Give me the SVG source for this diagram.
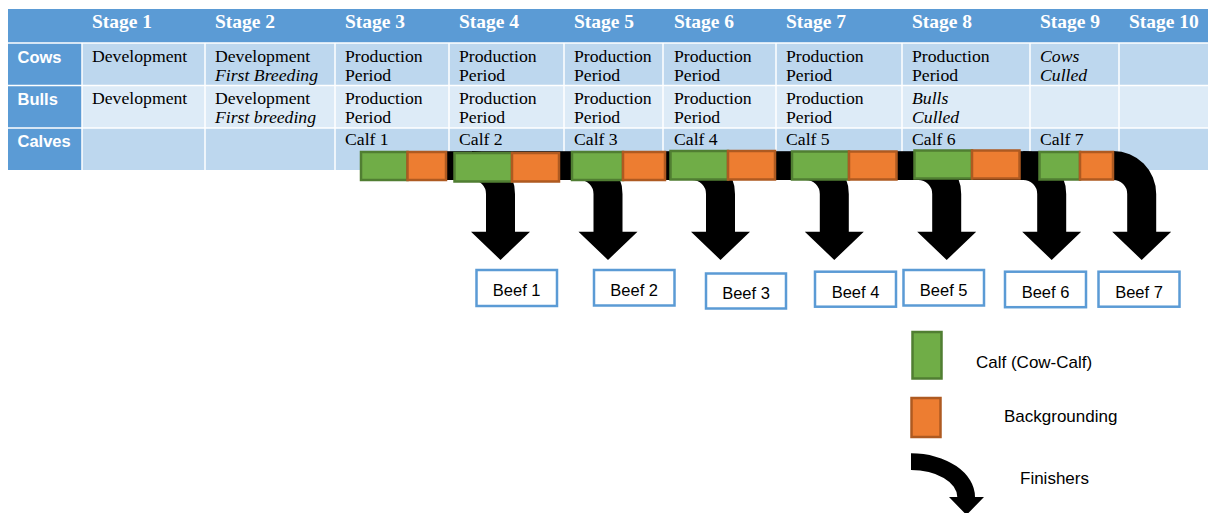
<svg xmlns="http://www.w3.org/2000/svg" width="1208" height="513" viewBox="0 0 1208 513">
<style>
.hdr{font-family:"Liberation Serif","Times New Roman",serif;font-weight:bold;font-size:19.5px;fill:#fff}
.lbl{font-family:"Liberation Sans",Arial,sans-serif;font-weight:bold;font-size:16.5px;fill:#fff}
.cell{font-family:"Liberation Serif","Times New Roman",serif;font-size:17.7px;fill:#000}
.it{font-style:italic}
.sans{font-family:"Liberation Sans",Arial,sans-serif;font-size:16.5px;fill:#000}
.leg{font-size:17px}
.grid{stroke:#fff;stroke-width:1.5}
.green{fill:#70AD47;stroke:#507E32;stroke-width:2.5}
.orange{fill:#ED7D31;stroke:#AE5A21;stroke-width:2.5}
.beef{fill:#fff;stroke:#5B9BD5;stroke-width:2.5}
.arr{fill:#000}
</style>
<rect width="1208" height="513" fill="#fff"/>
<g id="table">
  <rect x="8" y="9" width="1200" height="34" fill="#5B9BD5"/>
  <rect x="8" y="43" width="1200" height="42.5" fill="#BDD7EE"/>
  <rect x="8" y="85.5" width="1200" height="42.5" fill="#DDEBF7"/>
  <rect x="8" y="128" width="1200" height="42" fill="#BDD7EE"/>
  <rect x="8" y="43" width="74" height="127" fill="#5B9BD5"/>
  <g class="grid">
    <line x1="8" y1="43" x2="1208" y2="43"/>
    <line x1="8" y1="85.5" x2="1208" y2="85.5"/>
    <line x1="8" y1="128" x2="1208" y2="128"/>
    <line x1="82" y1="43" x2="82" y2="170"/>
    <line x1="205" y1="43" x2="205" y2="170"/>
    <line x1="335" y1="43" x2="335" y2="170"/>
    <line x1="449" y1="43" x2="449" y2="170"/>
    <line x1="564" y1="43" x2="564" y2="170"/>
    <line x1="663" y1="43" x2="663" y2="170"/>
    <line x1="776" y1="43" x2="776" y2="170"/>
    <line x1="902" y1="43" x2="902" y2="170"/>
    <line x1="1030" y1="43" x2="1030" y2="170"/>
    <line x1="1119" y1="43" x2="1119" y2="170"/>
  </g>
  <g class="hdr">
    <text x="92" y="27.5">Stage 1</text>
    <text x="215" y="27.5">Stage 2</text>
    <text x="345" y="27.5">Stage 3</text>
    <text x="459" y="27.5">Stage 4</text>
    <text x="574" y="27.5">Stage 5</text>
    <text x="674" y="27.5">Stage 6</text>
    <text x="786" y="27.5">Stage 7</text>
    <text x="912" y="27.5">Stage 8</text>
    <text x="1040" y="27.5">Stage 9</text>
    <text x="1129" y="27.5">Stage 10</text>
  </g>
  <g class="lbl">
    <text x="17.5" y="63">Cows</text>
    <text x="17.5" y="105">Bulls</text>
    <text x="17.5" y="147">Calves</text>
  </g>
  <g class="cell">
    <text x="92" y="62">Development</text>
    <text x="215" y="62">Development</text>
    <text x="215" y="81" class="it">First Breeding</text>
    <text x="345" y="62">Production</text><text x="345" y="81">Period</text>
    <text x="459" y="62">Production</text><text x="459" y="81">Period</text>
    <text x="574" y="62">Production</text><text x="574" y="81">Period</text>
    <text x="674" y="62">Production</text><text x="674" y="81">Period</text>
    <text x="786" y="62">Production</text><text x="786" y="81">Period</text>
    <text x="912" y="62">Production</text><text x="912" y="81">Period</text>
    <text x="1040" y="62" class="it">Cows</text><text x="1040" y="81" class="it">Culled</text>

    <text x="92" y="104">Development</text>
    <text x="215" y="104">Development</text>
    <text x="215" y="123" class="it">First breeding</text>
    <text x="345" y="104">Production</text><text x="345" y="123">Period</text>
    <text x="459" y="104">Production</text><text x="459" y="123">Period</text>
    <text x="574" y="104">Production</text><text x="574" y="123">Period</text>
    <text x="674" y="104">Production</text><text x="674" y="123">Period</text>
    <text x="786" y="104">Production</text><text x="786" y="123">Period</text>
    <text x="912" y="104" class="it">Bulls</text><text x="912" y="123" class="it">Culled</text>

    <text x="345" y="145">Calf 1</text>
    <text x="459" y="145">Calf 2</text>
    <text x="574" y="145">Calf 3</text>
    <text x="674" y="145">Calf 4</text>
    <text x="786" y="145">Calf 5</text>
    <text x="912" y="145">Calf 6</text>
    <text x="1040" y="145">Calf 7</text>
  </g>
</g>
<g id="connectors">
  <rect class="arr" x="440" y="151.2" width="673.5" height="28.8"/>
  <path id="arrow1" class="arr" d="M472,151 A43,43 0 0 1 515,194 L515,231.7 L530,231.7 L500.5,260 L471,231.7 L486,231.7 L486,194 A14,14 0 0 0 472,180 Z"/>
  <path id="arrow2" class="arr" d="M579.5,151 A43,43 0 0 1 622.5,194 L622.5,231.7 L637.5,231.7 L608,260 L578.5,231.7 L593.5,231.7 L593.5,194 A14,14 0 0 0 579.5,180 Z"/>
  <path id="arrow3" class="arr" d="M692,151 A43,43 0 0 1 735,194 L735,231.7 L750,231.7 L720.5,260 L691,231.7 L706,231.7 L706,194 A14,14 0 0 0 692,180 Z"/>
  <path id="arrow4" class="arr" d="M805.8,151 A43,43 0 0 1 848.8,194 L848.8,231.7 L863.8,231.7 L834.3,260 L804.8,231.7 L819.8,231.7 L819.8,194 A14,14 0 0 0 805.8,180 Z"/>
  <path id="arrow5" class="arr" d="M918.2,151 A43,43 0 0 1 961.2,194 L961.2,231.7 L976.2,231.7 L946.7,260 L917.2,231.7 L932.2,231.7 L932.2,194 A14,14 0 0 0 918.2,180 Z"/>
  <path id="arrow6" class="arr" d="M1023.2,151 A43,43 0 0 1 1066.2,194 L1066.2,231.7 L1081.2,231.7 L1051.7,260 L1022.2,231.7 L1037.2,231.7 L1037.2,194 A14,14 0 0 0 1023.2,180 Z"/>
  <path id="arrow7" class="arr" d="M1113.2,151 A43,43 0 0 1 1156.2,194 L1156.2,231.7 L1171.2,231.7 L1141.7,260 L1112.2,231.7 L1127.2,231.7 L1127.2,194 A14,14 0 0 0 1113.2,180 Z"/>
</g>
<g id="calf-bars">
  <g id="calf1"><rect class="green" x="361" y="152" width="46.5" height="28"/><rect class="orange" x="407.5" y="152" width="38.5" height="28"/></g>
  <g id="calf2"><rect class="green" x="454.5" y="153" width="57.5" height="28.5"/><rect class="orange" x="512" y="153" width="47" height="28.5"/></g>
  <g id="calf3"><rect class="green" x="572" y="152" width="51" height="28"/><rect class="orange" x="623" y="152" width="42" height="28"/></g>
  <g id="calf4"><rect class="green" x="670.5" y="151" width="57.5" height="28.5"/><rect class="orange" x="728" y="151" width="47" height="28.5"/></g>
  <g id="calf5"><rect class="green" x="792" y="151.5" width="57" height="28"/><rect class="orange" x="849" y="151.5" width="47.5" height="28"/></g>
  <g id="calf6"><rect class="green" x="914.5" y="150.5" width="57.5" height="28"/><rect class="orange" x="972" y="150.5" width="47.5" height="28"/></g>
  <g id="calf7"><rect class="green" x="1039.5" y="152" width="40.5" height="27.5"/><rect class="orange" x="1080" y="152" width="33" height="27.5"/></g>
</g>
<g id="beef1"><rect class="beef" x="476.5" y="270" width="80.5" height="36"/><text class="sans" x="516.7" y="296" text-anchor="middle">Beef 1</text></g>
<g id="beef2"><rect class="beef" x="594" y="270" width="80.5" height="35.5"/><text class="sans" x="634.2" y="296" text-anchor="middle">Beef 2</text></g>
<g id="beef3"><rect class="beef" x="706" y="273.5" width="80" height="35"/><text class="sans" x="746" y="299" text-anchor="middle">Beef 3</text></g>
<g id="beef4"><rect class="beef" x="815" y="271.7" width="81" height="35"/><text class="sans" x="855.5" y="297.5" text-anchor="middle">Beef 4</text></g>
<g id="beef5"><rect class="beef" x="903.5" y="270" width="80.5" height="35.5"/><text class="sans" x="943.7" y="296" text-anchor="middle">Beef 5</text></g>
<g id="beef6"><rect class="beef" x="1005" y="271.7" width="81" height="35.5"/><text class="sans" x="1045.5" y="297.5" text-anchor="middle">Beef 6</text></g>
<g id="beef7"><rect class="beef" x="1098.5" y="271.7" width="81" height="35"/><text class="sans" x="1139" y="297.5" text-anchor="middle">Beef 7</text></g>
<g id="legend">
  <rect class="green" x="912.5" y="332" width="29" height="46.5"/>
  <text class="sans leg" x="976" y="368">Calf (Cow-Calf)</text>
  <rect class="orange" x="911.5" y="398" width="29" height="39"/>
  <text class="sans leg" x="1004" y="421.5">Backgrounding</text>
  <path class="arr" d="M911,453.3 A64,43.7 0 0 1 975,497 L984,497 L966.5,515 L949,497 L957.3,497 A46.3,27 0 0 0 911,470 Z"/>
  <text class="sans leg" x="1020" y="484">Finishers</text>
</g>
</svg>
